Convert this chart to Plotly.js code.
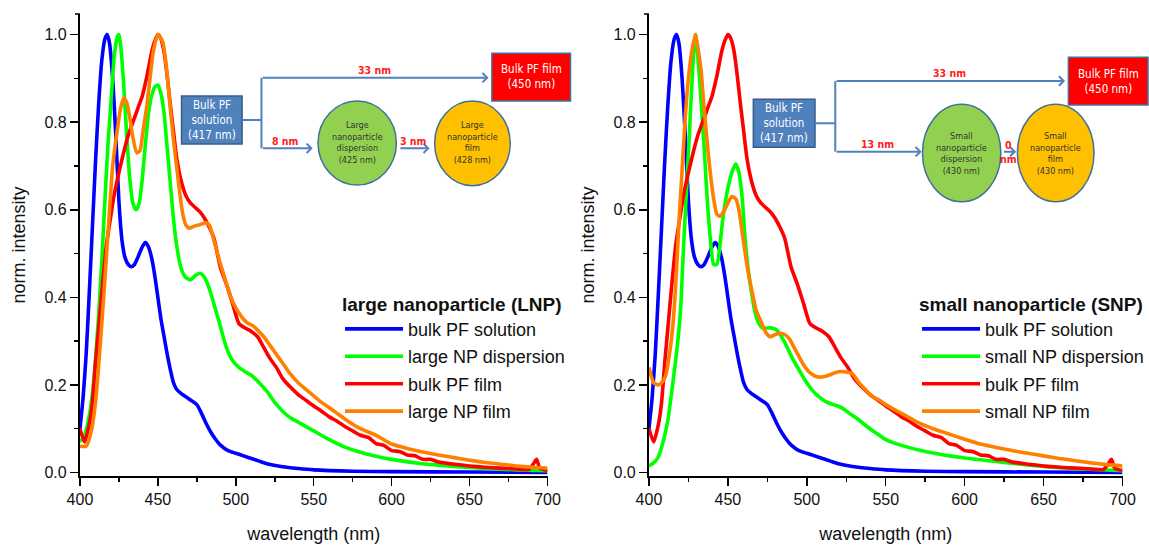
<!DOCTYPE html>
<html><head><meta charset="utf-8">
<script src="https://cdn.plot.ly/plotly-3.0.1.min.js"></script>
<style>html,body{margin:0;padding:0;background:#fff}#chart{width:1149px;height:546px}</style>
</head><body><div id="chart"></div>
<script>
// ---------------- data ----------------
const wlSolution = [400,402,404,406,408,410,412,414,416,417.5,419,421,423,425,427,429,431,433,435,437,440,442,444,446,448,450,452,454,456,458,460,462,465,470,475,478,481,484,487,490,495,500,505,510,515,520,530,540,550,575,600,650,700];
const intSolution = [0.10,0.17,0.27,0.41,0.56,0.71,0.84,0.94,0.99,1.0,0.98,0.90,0.77,0.62,0.53,0.49,0.475,0.47,0.475,0.49,0.515,0.525,0.515,0.49,0.45,0.40,0.35,0.31,0.27,0.235,0.205,0.19,0.18,0.168,0.155,0.135,0.112,0.092,0.076,0.063,0.05,0.044,0.038,0.032,0.026,0.02,0.013,0.009,0.006,0.003,0.002,0.001,0.0];

const wlLargeDisp = [400,403,406,408,410,412,414,416,418,420,422,424,425,426,428,430,432,434,436,438,440,442,444,446,448,450,452,454,456,458,460,462,465,468,471,474,477,480,483,486,490,494,498,502,506,510,515,520,525,530,535,540,550,560,570,580,590,600,620,640,660,680,700];
const intLargeDisp = [0.07,0.085,0.13,0.18,0.26,0.36,0.48,0.62,0.75,0.85,0.95,0.995,1.0,0.98,0.89,0.77,0.67,0.615,0.60,0.615,0.67,0.75,0.82,0.86,0.88,0.885,0.865,0.82,0.74,0.66,0.58,0.52,0.465,0.445,0.44,0.45,0.455,0.445,0.42,0.385,0.335,0.285,0.255,0.24,0.23,0.222,0.205,0.185,0.16,0.14,0.125,0.115,0.095,0.075,0.058,0.046,0.037,0.030,0.02,0.014,0.009,0.006,0.004];

const wlFilm = [400,403,406,408,410,412,414,417,420,422,425,428,431,434,437,440,443,446,448,450,452,454,456,458,460,462,465,468,471,474,477,480,483,486,490,494,498,502,506,510,514,518,522,526,530,535,540,545,550,555,560,565,570,575,580,585,590,595,600,605,610,615,620,625,630,640,650,660,670,680,688,691,693,695,698,700];
const intFilm = [0.10,0.07,0.11,0.16,0.25,0.33,0.41,0.52,0.59,0.635,0.685,0.73,0.77,0.80,0.83,0.86,0.905,0.96,0.985,1.0,0.99,0.96,0.905,0.84,0.78,0.72,0.665,0.632,0.615,0.605,0.595,0.58,0.56,0.535,0.47,0.43,0.385,0.34,0.33,0.322,0.31,0.285,0.26,0.24,0.215,0.195,0.178,0.165,0.152,0.14,0.127,0.117,0.105,0.095,0.085,0.08,0.066,0.062,0.05,0.048,0.04,0.038,0.03,0.03,0.024,0.019,0.015,0.012,0.01,0.008,0.007,0.02,0.03,0.01,0.006,0.005];

const wlLargeFilm = [400,404,407,410,413,416,419,421,423.5,426,428,430,432,434,436.5,438.5,440.5,443,445,447,450,453,455,457.5,460,462,464,466,468,470,473,477,481,483,486,489,492,495,498,501,505,508,511,514,518,521,524,527,530,535,540,545,550,555,560,565,570,575,580,590,600,610,620,630,640,650,660,670,680,690,700];
const intLargeFilm = [0.06,0.06,0.09,0.16,0.29,0.44,0.60,0.70,0.77,0.83,0.855,0.845,0.81,0.765,0.73,0.735,0.78,0.84,0.90,0.96,1.0,0.985,0.94,0.85,0.76,0.70,0.64,0.59,0.565,0.558,0.562,0.566,0.57,0.565,0.53,0.49,0.455,0.42,0.39,0.37,0.35,0.34,0.335,0.325,0.31,0.295,0.28,0.265,0.25,0.225,0.205,0.19,0.175,0.16,0.148,0.135,0.122,0.11,0.1,0.085,0.065,0.055,0.047,0.04,0.034,0.028,0.023,0.019,0.015,0.012,0.01];

const wlSmallDisp = [400,403,406,409,412,415,418,420,422,424,426,428,429.5,431,433,435,437,439,441,443,445,447,449,451,453,455,457,459,461,463,465,467,469,472,475,478,481,484,487,491,495,499,503,507,512,517,522,527,533,540,546,550,560,575,600,625,650,675,700];
const intSmallDisp = [0.015,0.022,0.036,0.07,0.12,0.2,0.29,0.37,0.52,0.66,0.8,0.94,1.0,0.95,0.85,0.74,0.62,0.53,0.475,0.475,0.52,0.585,0.63,0.665,0.69,0.705,0.685,0.63,0.53,0.46,0.41,0.37,0.345,0.33,0.33,0.33,0.325,0.31,0.29,0.26,0.235,0.21,0.19,0.175,0.162,0.155,0.148,0.135,0.12,0.1,0.085,0.075,0.062,0.048,0.033,0.023,0.014,0.008,0.004];

const wlSmallFilm = [400,403,406,408,410.5,413,415,417,419,421,423,425,427.5,429.5,431,433,435,437,439,441,443,445,448,450,452.5,455,457,459,461,463,465.5,468,471,474,477,480,483,486,489,492,495,499,503,507,512,516,520,524,529,533,537,541,546,550,560,570,580,590,600,610,620,630,640,650,660,670,680,690,700];
const intSmallFilm = [0.24,0.205,0.2,0.205,0.22,0.27,0.33,0.43,0.57,0.69,0.81,0.9,0.97,1.0,0.97,0.92,0.83,0.75,0.68,0.625,0.59,0.585,0.6,0.615,0.63,0.625,0.6,0.55,0.5,0.455,0.41,0.37,0.345,0.32,0.31,0.315,0.318,0.315,0.305,0.285,0.265,0.24,0.225,0.218,0.22,0.225,0.23,0.23,0.225,0.205,0.19,0.175,0.165,0.155,0.135,0.115,0.1,0.088,0.076,0.065,0.057,0.05,0.044,0.038,0.032,0.027,0.022,0.018,0.015];

const namesLeft = ['bulk PF solution','large NP dispersion','bulk PF film','large NP film'];
const namesRight = ['bulk PF solution','small NP dispersion','bulk PF film','small NP film'];
const legendTitles = ['large nanoparticle (LNP)','small nanoparticle (SNP)'];
const xTitle = 'wavelength (nm)';
const yTitle = 'norm. intensity';
const colors = ['#0000FF','#00FF00','#FF0000','#FF8000'];

// ---------------- layout helpers ----------------
const W=1149,H=546;
const PX=p=>p/W, PY=p=>1-p/H;
const FONT='"Liberation Sans", Arial, sans-serif';
const NARROW='"Liberation Sans Narrow", "Arial Narrow", "DejaVu Sans Condensed", sans-serif';

function tr(x,y,name,i,xa,ya,leg){
  return {x:x,y:y,name:name,type:'scatter',mode:'lines',xaxis:xa,yaxis:ya,legend:leg,legendgroup:leg+i,
    line:{color:colors[i],width:3.6,shape:'spline',smoothing:0.6}};
}
const leftX=[wlSolution,wlLargeDisp,wlFilm,wlLargeFilm], leftY=[intSolution,intLargeDisp,intFilm,intLargeFilm];
const rightX=[wlSolution,wlSmallDisp,wlFilm,wlSmallFilm], rightY=[intSolution,intSmallDisp,intFilm,intSmallFilm];
const data=[];
for(let i=0;i<4;i++) data.push(tr(leftX[i],leftY[i],namesLeft[i],i,'x','y','legend'));
for(let i=0;i<4;i++) data.push(tr(rightX[i],rightY[i],namesRight[i],i,'x2','y2','legend2'));

function xAx(d0,d1,anchor){
  return {domain:[PX(d0),PX(d1)],range:[400,700],anchor:anchor,tick0:400,dtick:50,
    showline:true,linecolor:'#000',linewidth:2,ticks:'outside',ticklen:8,tickwidth:1.5,tickcolor:'#000',
    showgrid:false,zeroline:false,tickfont:{family:FONT,size:16,color:'#111'},
    minor:{ticks:'outside',ticklen:4,tickwidth:1.5,tickcolor:'#000',dtick:25,tick0:400,showgrid:false},
    title:{text:xTitle,font:{family:FONT,size:18,color:'#111'},standoff:20}};
}
function yAx(anchor){
  return {domain:[PY(476),PY(14)],range:[-0.008,1.047],anchor:anchor,tick0:0,dtick:0.2,tickformat:'.1f',
    showline:true,linecolor:'#000',linewidth:2,ticks:'outside',ticklen:8,tickwidth:1.5,tickcolor:'#000',
    showgrid:false,zeroline:false,tickfont:{family:FONT,size:16,color:'#111'},
    minor:{ticks:'outside',ticklen:4,tickwidth:1.5,tickcolor:'#000',dtick:0.1,tick0:0,showgrid:false},
    title:{text:yTitle,font:{family:FONT,size:18,color:'#111'},standoff:14}};
}
function leg(x,y,title){
  return {x:PX(x),y:PY(y),xanchor:'left',yanchor:'top',bgcolor:'rgba(0,0,0,0)',borderwidth:0,
    font:{family:FONT,size:18,color:'#111'},tracegroupgap:1,itemwidth:58,
    title:{text:'<b>'+title+'</b>',font:{family:FONT,size:19,color:'#111'}}};
}

const BLUE='#4F81BD', EDGE='#41719C';
const shapes=[], ann=[];
function line(x0,y0,x1,y1){shapes.push({type:'line',xref:'paper',yref:'paper',x0:PX(x0),y0:PY(y0),x1:PX(x1),y1:PY(y1),line:{color:BLUE,width:2}});}
function rect(x0,y0,x1,y1,fill,edge){shapes.push({type:'rect',xref:'paper',yref:'paper',x0:PX(x0),y0:PY(y1),x1:PX(x1),y1:PY(y0),fillcolor:fill,line:{color:edge,width:1.5}});}
function ell(x0,y0,x1,y1,fill){shapes.push({type:'circle',xref:'paper',yref:'paper',x0:PX(x0),y0:PY(y1),x1:PX(x1),y1:PY(y0),fillcolor:fill,line:{color:EDGE,width:1.5}});}
function arrow(xt,y,xh){ann.push({xref:'paper',yref:'paper',x:PX(xh),y:PY(y),ax:xt-xh,ay:0,text:'',showarrow:true,arrowhead:4,arrowsize:0.9,arrowwidth:2,arrowcolor:BLUE,standoff:0,startstandoff:0});}
function txt(x,y,t,size,color,fam,bold){ann.push({xref:'paper',yref:'paper',x:PX(x),y:PY(y),xanchor:'center',yanchor:'middle',text:bold?'<b>'+t+'</b>':t,showarrow:false,font:{family:fam,size:size,color:color}});}

// axis end caps
shapes.push({type:'line',xref:'paper',yref:'paper',x0:PX(75),x1:PX(80),y0:PY(14),y1:PY(14),line:{color:'#000',width:1.5}});
shapes.push({type:'line',xref:'paper',yref:'paper',x0:PX(644.5),x1:PX(649.5),y0:PY(14),y1:PY(14),line:{color:'#000',width:1.5}});

// left diagram
rect(181.7,96,242.3,144,BLUE,'#385D8A');
line(242.3,120,261.7,120); line(261.7,77.7,261.7,148.3);
arrow(261.7,77.7,489); arrow(261.7,148.3,313); arrow(399.3,148.3,430);
rect(492.3,53.3,571,101,'#FF0000',EDGE);
ell(318.3,101,396.7,185,'#92D050');
ell(435,101,510.7,185.7,'#FFC000');
txt(212,120,'Bulk PF<br>solution<br>(417 nm)',11.5,'#fff',NARROW);
txt(531.7,77,'Bulk PF film<br>(450 nm)',11.5,'#fff',NARROW);
txt(375,70,'33 nm',10.5,'#FF2020',NARROW,true);
txt(286,140.5,'8 nm',10.5,'#FF2020',NARROW,true);
txt(413.5,140.5,'3 nm',10.5,'#FF2020',NARROW,true);
txt(357.5,143,'Large<br>nanoparticle<br>dispersion<br>(425 nm)',9,'#333',NARROW);
txt(473,143,'Large<br>nanoparticle<br>film<br>(428 nm)',9,'#333',NARROW);

// right diagram
rect(754,99.3,815.7,147.3,BLUE,'#385D8A');
line(815.7,123.3,836,123.3); line(836,81,836,151.7);
arrow(836,81,1066); arrow(836,151.7,922.5); arrow(1003.3,151.7,1017);
rect(1069.3,57.3,1149,105,'#FF0000',EDGE);
ell(923.3,104.3,1001.7,201.7,'#92D050');
ell(1018.3,104.3,1095,201.7,'#FFC000');
txt(785,123.3,'Bulk PF<br>solution<br>(417 nm)',11.5,'#fff',NARROW);
txt(1109,81.7,'Bulk PF film<br>(450 nm)',11.5,'#fff',NARROW);
txt(950,73.3,'33 nm',10.5,'#FF2020',NARROW,true);
txt(878.3,144.3,'13 nm',10.5,'#FF2020',NARROW,true);
txt(1009.3,151.7,'0<br>nm',10.5,'#FF2020',NARROW,true);
txt(962.5,153,'Small<br>nanoparticle<br>dispersion<br>(430 nm)',9,'#333',NARROW);
txt(1056.7,153,'Small<br>nanoparticle<br>film<br>(430 nm)',9,'#333',NARROW);

const layout={width:W,height:H,margin:{l:0,r:0,t:0,b:0},paper_bgcolor:'#fff',plot_bgcolor:'rgba(0,0,0,0)',
  font:{family:FONT,color:'#111'},
  xaxis:xAx(80,548,'y'),yaxis:yAx('x'),
  xaxis2:xAx(649.5,1123.5,'y2'),yaxis2:yAx('x2'),
  legend:leg(340,286,legendTitles[0]),legend2:leg(918,286,legendTitles[1]),
  shapes:shapes,annotations:ann,showlegend:true};
Plotly.newPlot('chart',data,layout,{displayModeBar:false,staticPlot:true});
</script></body></html>
